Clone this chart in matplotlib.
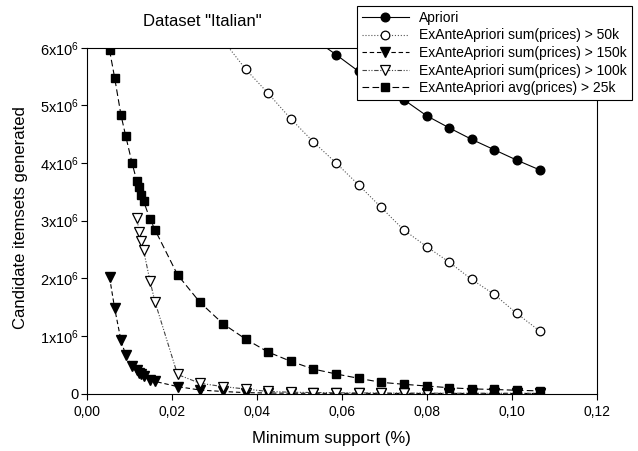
import matplotlib
matplotlib.use("Agg")
import matplotlib.pyplot as plt
from matplotlib.ticker import FixedLocator, FuncFormatter

plt.rcParams['font.family'] = ['Liberation Sans', 'DejaVu Sans']
plt.rcParams['mathtext.fontset'] = 'custom'
plt.rcParams['mathtext.rm'] = 'Liberation Sans'
plt.rcParams['mathtext.default'] = 'regular'

# ---- data (values in millions) ----
support = [0.0053, 0.0065, 0.0080, 0.0091, 0.0106, 0.0117, 0.0123, 0.0127, 0.0133,
           0.0148, 0.0160, 0.0213, 0.0266, 0.0320, 0.0373, 0.0426, 0.0479, 0.0532,
           0.0586, 0.0639, 0.0692, 0.0745, 0.0799, 0.0852, 0.0905, 0.0958, 0.1011, 0.1065]

apriori_x = [0.0479, 0.0532, 0.0586, 0.0639, 0.0692, 0.0745, 0.0799, 0.0852, 0.0905, 0.0958, 0.1011, 0.1065]
apriori_y = [6.50, 6.16, 5.88, 5.59, 5.33, 5.10, 4.82, 4.61, 4.41, 4.23, 4.05, 3.88]

sum50_x = [0.0266, 0.0320, 0.0373, 0.0426, 0.0479, 0.0532, 0.0586, 0.0639, 0.0692, 0.0745,
           0.0799, 0.0852, 0.0905, 0.0958, 0.1011, 0.1065]
sum50_y = [6.60, 6.13, 5.63, 5.21, 4.77, 4.37, 4.00, 3.62, 3.23, 2.84, 2.55, 2.28, 1.98, 1.72, 1.39, 1.085]

sum150_y = [2.02, 1.48, 0.92, 0.67, 0.48, 0.40, 0.36, 0.33, 0.30, 0.24, 0.21, 0.12, 0.06,
            0.035, 0.015, 0.008, 0.005, 0.004, 0.003, 0.002, 0.002, 0.001, 0.001, 0.001,
            0.001, 0.001, 0.001, 0.001]

sum100_x = support[5:]
sum100_y = [3.04, 2.81, 2.65, 2.49, 1.96, 1.59, 0.33, 0.177, 0.12, 0.078, 0.035, 0.022, 0.017,
            0.012, 0.010, 0.008, 0.007, 0.006, 0.005, 0.004, 0.004, 0.003, 0.003]

avg25_y = [5.96, 5.48, 4.83, 4.47, 4.00, 3.69, 3.59, 3.45, 3.34, 3.03, 2.84, 2.06, 1.58, 1.21,
           0.946, 0.72, 0.56, 0.425, 0.339, 0.264, 0.194, 0.160, 0.130, 0.100, 0.080, 0.070,
           0.056, 0.045]

labels = ['Apriori', 'ExAnteApriori sum(prices) > 50k', 'ExAnteApriori sum(prices) > 150k',
          'ExAnteApriori sum(prices) > 100k', 'ExAnteApriori avg(prices) > 25k']

xticks = [0.00, 0.02, 0.04, 0.06, 0.08, 0.10, 0.12]
yticks = [0, 1, 2, 3, 4, 5, 6]

# ---- figure ----
fig = plt.figure(figsize=(6.38, 4.51), dpi=100)
ax = fig.add_axes([87/638, 1-393.5/451, (597-87)/638, (393.5-47.7)/451])

M = 1e6
lw = 0.8
ms_c = 6.2
h1, = ax.plot(apriori_x, [v*M for v in apriori_y], '-', color='black', lw=lw,
              marker='o', ms=ms_c, mfc='black', mec='black')
h2, = ax.plot(sum50_x, [v*M for v in sum50_y], ':', color='#555555', lw=lw,
              marker='o', ms=ms_c, mfc='white', mec='black', mew=0.9)
h3, = ax.plot(support, [v*M for v in sum150_y], color='black', lw=lw, dashes=(4, 2.5),
              marker='v', ms=6.8, mfc='black', mec='black')
h4, = ax.plot(sum100_x, [v*M for v in sum100_y], color='#444444', lw=lw,
              dashes=(4, 1.5, 1, 1.5, 1, 1.5),
              marker='v', ms=6.8, mfc='white', mec='black', mew=0.9)
h5, = ax.plot(support, [v*M for v in avg25_y], color='black', lw=lw, dashes=(6, 3),
              marker='s', ms=6.2, mfc='black', mec='black')

ax.set_xlim(0, 0.12)
ax.set_ylim(0, 6*M)
ax.xaxis.set_major_locator(FixedLocator(xticks))
ax.yaxis.set_major_locator(FixedLocator([v*M for v in yticks]))
ax.xaxis.set_major_formatter(FuncFormatter(lambda v, p: ('%.2f' % v).replace('.', ',')))
ax.yaxis.set_major_formatter(FuncFormatter(
    lambda v, p: '0' if v == 0 else '%dx10$^{6}$' % round(v/M)))
ax.tick_params(axis='both', direction='out', length=4.5, width=0.8, labelsize=10)
ax.tick_params(axis='y', pad=1.5, labelsize=10.5)
ax.tick_params(axis='x', pad=4)
for s in ax.spines.values():
    s.set_linewidth(0.8)

fig.text(202/638, 1-22/451, 'Dataset "Italian"', ha='center', va='center', fontsize=12)
fig.text(331/638, 1-438/451, 'Minimum support (%)', ha='center', va='center', fontsize=12)
fig.text(21/638, 1-218/451, 'Candidate itemsets generated', ha='center', va='center',
         rotation=90, fontsize=12)

leg = fig.legend([h1, h2, h3, h4, h5], labels, loc='upper right',
                 bbox_to_anchor=(632/638, 1-6/451), borderaxespad=0,
                 fontsize=10, fancybox=False, framealpha=1, edgecolor='black',
                 handlelength=3.4, handletextpad=0.75, labelspacing=0.26,
                 borderpad=0.35)
leg.get_frame().set_linewidth(0.8)

fig.savefig('out.png', dpi=100)
